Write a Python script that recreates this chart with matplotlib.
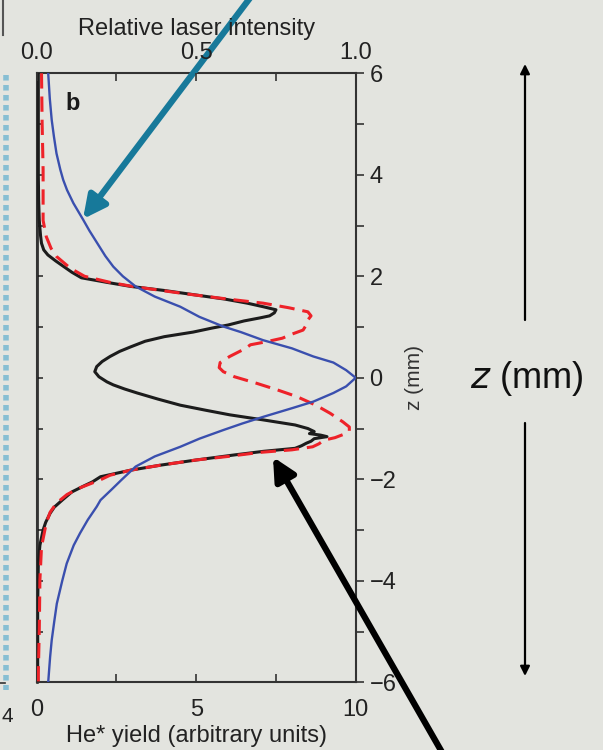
import matplotlib
matplotlib.use("Agg")
import matplotlib.pyplot as plt
from matplotlib.lines import Line2D

plt.rcParams['font.family'] = ['Liberation Sans', 'DejaVu Sans']

# He* yield, measured (black) -- (z in mm, yield)
z_meas = [6.0, 5.0, 4.0, 3.5, 3.1, 2.8, 2.65, 2.52, 2.42, 2.3, 2.19, 2.08, 1.97, 1.88, 1.80,
          1.72, 1.63, 1.55, 1.47, 1.40, 1.34, 1.28, 1.22, 1.18, 1.12, 1.08, 1.04, 0.98,
          0.90, 0.81, 0.72, 0.61, 0.52, 0.42, 0.32, 0.22, 0.12, 0.02, -0.08, -0.14,
          -0.22, -0.30, -0.42, -0.54, -0.64, -0.73, -0.83, -0.93, -1.00, -1.06, -1.10,
          -1.13, -1.16, -1.20, -1.25, -1.29, -1.34, -1.39, -1.45, -1.52, -1.62, -1.72,
          -1.82, -1.95, -2.05, -2.14, -2.25, -2.41, -2.55, -2.67, -2.85, -3.0, -3.3,
          -3.65, -4.5, -5.5, -6.0]
y_meas = [0.05, 0.05, 0.05, 0.06, 0.08, 0.12, 0.15, 0.22, 0.35, 0.6, 0.85, 1.1, 1.4, 2.2, 2.95,
          4.0, 5.0, 5.9, 6.6, 7.1, 7.5, 7.45, 7.3, 7.0, 6.5, 6.25, 6.0, 5.5,
          4.9, 4.0, 3.4, 2.95, 2.6, 2.3, 2.05, 1.88, 1.82, 1.95, 2.2, 2.4,
          2.75, 3.15, 3.8, 4.5, 5.3, 6.05, 7.1, 8.1, 8.5, 8.7, 8.55,
          8.9, 9.1, 8.7, 8.6, 8.45, 8.3, 8.1, 7.1, 6.2, 5.0, 3.9,
          2.95, 2.0, 1.75, 1.45, 1.1, 0.8, 0.55, 0.42, 0.28, 0.2, 0.1,
          0.05, 0.03, 0.03, 0.03]

# He* yield, calculated (red dashed)
z_calc = [6.0, 5.0, 4.1, 3.6, 3.1, 2.78, 2.55, 2.39, 2.16, 2.0, 1.88, 1.80, 1.66, 1.55,
          1.47, 1.38, 1.30, 1.22, 1.14, 1.04, 0.94, 0.86, 0.78, 0.71, 0.65, 0.58, 0.50,
          0.42, 0.30, 0.20, 0.12, 0.02, -0.11, -0.24, -0.37, -0.54, -0.70, -0.87, -0.97,
          -1.05, -1.12, -1.18, -1.23, -1.30, -1.36, -1.42, -1.47, -1.55, -1.62, -1.72,
          -1.82, -1.92, -2.01, -2.17, -2.30, -2.47, -2.65, -2.86, -3.33, -3.98, -4.97,
          -5.82, -6.0]
y_calc = [0.15, 0.17, 0.2, 0.2, 0.2, 0.3, 0.45, 0.62, 1.05, 1.5, 2.3, 3.0, 4.6, 6.0,
          7.1, 7.9, 8.5, 8.6, 8.5, 8.45, 8.35, 8.0, 7.7, 7.2, 6.7, 6.55, 6.3,
          6.05, 5.75, 5.72, 5.85, 6.2, 6.9, 7.55, 8.15, 8.75, 9.2, 9.6, 9.8,
          9.8, 9.6, 9.35, 9.0, 8.85, 8.65, 8.0, 7.0, 6.0, 5.0, 3.9,
          2.95, 2.3, 2.0, 1.35, 0.95, 0.62, 0.42, 0.3, 0.15, 0.1, 0.08,
          0.05, 0.05]

# relative laser intensity (blue)
z_laser = [6.0, 5.5, 5.08, 4.75, 4.42, 4.1, 3.9, 3.7, 3.44, 3.11, 2.9, 2.65, 2.4, 2.19,
           2.0, 1.80, 1.6, 1.40, 1.2, 1.01, 0.9, 0.74, 0.58, 0.42, 0.30, 0.15, 0.0,
           -0.17, -0.30, -0.47, -0.60, -0.77, -0.9, -1.03, -1.2, -1.36, -1.55, -1.75,
           -2.01, -2.2, -2.41, -2.54, -2.8, -3.06, -3.3, -3.66, -4.0, -4.45, -4.8,
           -5.17, -5.5, -6.0]
i_laser = [0.036, 0.041, 0.047, 0.054, 0.062, 0.074, 0.083, 0.095, 0.115, 0.146, 0.165, 0.19,
           0.215, 0.24, 0.27, 0.31, 0.37, 0.45, 0.51, 0.585, 0.64, 0.71, 0.80, 0.867,
           0.93, 0.97, 1.0,
           0.97, 0.93, 0.867, 0.80, 0.71, 0.645, 0.585, 0.51, 0.45, 0.37, 0.31,
           0.266, 0.235, 0.2, 0.188, 0.16, 0.136, 0.116, 0.094, 0.08, 0.063, 0.055,
           0.047, 0.042, 0.036]

bg = '#e3e4df'
ink = '#333333'

fig = plt.figure(figsize=(6.03, 7.5), dpi=100, facecolor=bg)
ax = fig.add_axes([0.0609, 0.0903, 0.529, 0.812])
ax.set_facecolor('none')

ax.plot(y_meas, z_meas, color='#1c1c1c', lw=2.2, zorder=3)
ax.plot(y_calc, z_calc, color='#ee2229', lw=2.2, dashes=(5, 2.6), zorder=4)
ax.set_xlim(0, 10)
ax.set_ylim(-6, 6)

ax.set_xticks([0, 5, 10])
ax.set_xticks([2.5, 7.5], minor=True)
ax.tick_params(axis='x', which='both', direction='in', length=6, width=1.2,
               color=ink, labelsize=17, labelcolor='#222222', pad=12)
ax.set_xlabel('He* yield (arbitrary units)', fontsize=17, color='#222222', labelpad=3)

ax.yaxis.tick_right()
ax.yaxis.set_label_position('right')
ax.set_yticks([-6, -4, -2, 0, 2, 4, 6])
ax.set_yticks([-5, -3, -1, 1, 3, 5], minor=True)
ax.set_yticklabels(['\u22126', '\u22124', '\u22122', '0', '2', '4', '6'])
ax.tick_params(axis='y', which='both', direction='out', length=6, width=1.2,
               color=ink, labelsize=17, labelcolor='#222222', pad=4)
ax.set_ylabel('z (mm)', fontsize=15, color='#333333', labelpad=6)

for s in ax.spines.values():
    s.set_color(ink)
    s.set_linewidth(1.5)

# inward ticks on the left spine, every mm
sec = ax.secondary_yaxis('left')
sec.set_yticks(range(-6, 7))
sec.tick_params(direction='in', length=4, width=1.2, color=ink, labelleft=False)
sec.spines['left'].set_color('#111111')
sec.spines['left'].set_linewidth(1.8)

# top axis: laser intensity
axt = ax.twiny()
axt.plot(i_laser, z_laser, color='#3a4fae', lw=1.7, zorder=2)
axt.set_xlim(0, 1)
axt.set_xticks([0, 0.5, 1.0])
axt.set_xticks([0.25, 0.75], minor=True)
axt.set_xticklabels(['0.0', '0.5', '1.0'])
axt.tick_params(axis='x', which='both', direction='in', length=6, width=1.2,
                color=ink, labelsize=17, labelcolor='#222222', pad=7)
axt.set_xlabel('Relative laser intensity', fontsize=17, color='#222222', labelpad=5)
for s in axt.spines.values():
    s.set_visible(False)

ax.text(0.09, 0.95, 'b', transform=ax.transAxes, fontsize=17, fontweight='bold',
        ha='left', va='center', color='#1a1a1a')

# slide annotations
ax.annotate('', xy=(83, 531), xytext=(253, 756), xycoords='figure pixels',
            textcoords='figure pixels', annotation_clip=False,
            arrowprops=dict(arrowstyle='-|>', lw=4.5, color='#17799a',
                            mutation_scale=34, shrinkA=0, shrinkB=0))
ax.annotate('', xy=(273, 293), xytext=(443, -4), xycoords='figure pixels',
            textcoords='figure pixels', annotation_clip=False,
            arrowprops=dict(arrowstyle='-|>', lw=4.5, color='black',
                            mutation_scale=34, shrinkA=0, shrinkB=0))
ax.annotate('', xy=(525, 686), xytext=(525, 430), xycoords='figure pixels',
            textcoords='figure pixels', annotation_clip=False,
            arrowprops=dict(arrowstyle='-|>', lw=1.6, color='black',
                            mutation_scale=14, shrinkA=0, shrinkB=0))
ax.annotate('', xy=(525, 74), xytext=(525, 327), xycoords='figure pixels',
            textcoords='figure pixels', annotation_clip=False,
            arrowprops=dict(arrowstyle='-|>', lw=1.6, color='black',
                            mutation_scale=14, shrinkA=0, shrinkB=0))
fig.text(527 / 603, 1 - 378 / 750, r'$z$ (mm)', fontsize=26, ha='center', va='center',
         color='#111111')

# sliver of the neighbouring panel at the left edge
fig.add_artist(Line2D([6 / 603, 6 / 603], [1 - 75 / 750, 1 - 690 / 750], color='#4aa6cc',
                      lw=4, dashes=(1.0, 0.8), alpha=0.6))
fig.add_artist(Line2D([0, 5 / 603], [1 - 683 / 750, 1 - 683 / 750], color=ink, lw=1.2))
fig.add_artist(Line2D([3 / 603, 3 / 603], [1.0, 1 - 35 / 750], color='#555555', lw=1.5))
fig.text(1 / 603, 1 - 717 / 750, '4', fontsize=15, ha='left', va='center', color='#222222')

fig.savefig('out.png', dpi=100, facecolor=bg)
